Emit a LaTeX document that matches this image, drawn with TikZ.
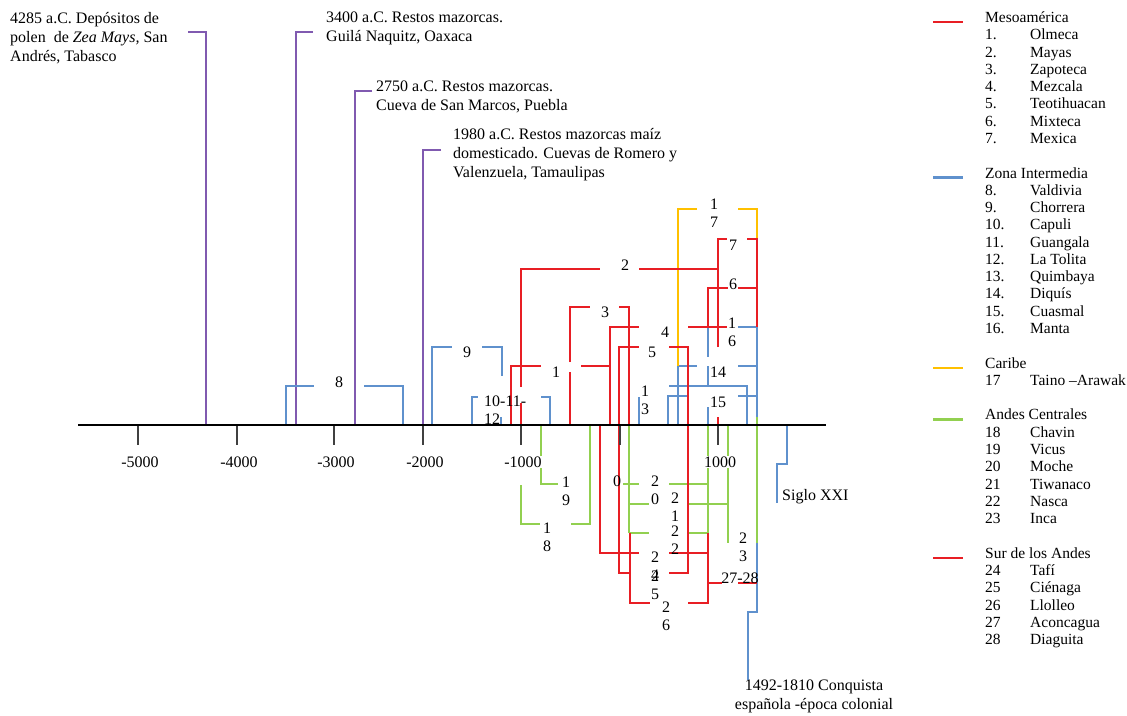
\documentclass[tikz,border=0pt]{standalone}
\usepackage{fontspec}
\setmainfont{Liberation Serif}
\definecolor{mesored}{RGB}{232,30,36}
\definecolor{zonablue}{RGB}{95,145,205}
\definecolor{caribeyellow}{RGB}{255,192,0}
\definecolor{andesgreen}{RGB}{146,208,80}
\definecolor{maizpurple}{RGB}{128,90,176}
\definecolor{tickgray}{RGB}{64,64,64}
\newcommand\chartfont{\fontsize{16}{18}\selectfont}
\newcommand\notefont{\fontsize{16}{19}\selectfont}
\newcommand\legfont{\fontsize{15.5}{17}\selectfont}

\begin{document}
\begin{tikzpicture}[x=1pt,y=-1pt,
    meso/.style={mesored,line width=1.4pt},
    sur/.style={mesored,line width=1.4pt},
    zona/.style={zonablue,line width=1.4pt},
    caribe/.style={caribeyellow,line width=1.4pt},
    andes/.style={andesgreen,line width=1.4pt},
    maiz/.style={maizpurple,line width=1.4pt},
    lbl/.style={inner sep=0pt,align=center,font=\chartfont},
    note/.style={inner sep=0pt,align=left,font=\notefont,anchor=west},
    legtext/.style={inner sep=0pt,font=\legfont,anchor=base west}]
  \useasboundingbox (0,0) rectangle (1127,715);

  \draw[maiz] (188,32) -- (206,32) -- (206,425);
  \draw[maiz] (313,32) -- (296,32) -- (296,425);
  \draw[maiz] (372,91) -- (355,91) -- (355,425);
  \draw[maiz] (441,150) -- (423,150) -- (423,425);
  \node[note] (polen) at (10,38) {4285 a.C. Depósitos de\\polen\ \ de \textit{Zea Mays,} San\\Andrés, Tabasco};
  \node[note] (guila) at (326,28.5) {3400 a.C. Restos mazorcas.\\Guilá Naquitz, Oaxaca};
  \node[note] (sanmarcos) at (376,96.5) {2750 a.C. Restos mazorcas.\\Cueva de San Marcos, Puebla};
  \node[note] (romero) at (453,155) {1980 a.C. Restos mazorcas maíz\\domesticado. Cuevas de Romero y\\Valenzuela, Tamaulipas};

  \draw[zona] (286,425) -- (286,386) -- (314,386) (364,386) -- (403,386) -- (403,425);
  \draw[zona] (432,425) -- (432,347) -- (452,347) (482,347) -- (502,347) -- (502,376);
  \draw[zona] (472,425) -- (472,397) -- (478,397) (541,397) -- (550,397) -- (550,425) (501,417) -- (501,425);
  \draw[zona] (639,397) -- (639,425);
  \draw[zona] (678,366) -- (678,425) (678,366) -- (697,366) (738,366) -- (757,366);
  \draw[zona] (668,425) -- (668,396) -- (688,396) (738,396) -- (757,396);
  \draw[zona] (669,386) -- (747,386) -- (747,425);
  \draw[zona] (708,327) -- (708,357) (708,366) -- (708,386) (708,407) -- (708,425)
    (738,327) -- (757,327) -- (757,417);
  \draw[zona] (787,425) -- (787,464) -- (777,464) -- (777,503);
  \draw[zona] (757,543) -- (757,612) -- (748,612) -- (748,680);

  \draw[caribe] (678,366) -- (678,209) -- (697,209) (738,209) -- (757,209) -- (757,239);

  \draw[meso] (511,425) -- (511,366) -- (541,366) (581,366) -- (610,366);
  \draw[meso] (521,425) -- (521,403) (521,387) -- (521,269) -- (600,269) (639,269) -- (718,269);
  \draw[meso] (570,425) -- (570,372) (570,362) -- (570,307) -- (590,307) (619,307) -- (629,307) -- (629,425);
  \draw[meso] (610,425) -- (610,327) -- (639,327) (688,327) -- (727,327);
  \draw[meso] (619,425) -- (619,347) -- (639,347) (669,347) -- (688,347) -- (688,425);
  \draw[meso] (708,327) -- (708,288) -- (728,288) (738,288) -- (757,288);
  \draw[meso] (718,347) -- (718,239) -- (727,239) (747,239) -- (757,239) -- (757,327) (718,417) -- (718,425);

  \draw[andes] (541,425) -- (541,484) -- (558,484);
  \draw[andes] (521,485) -- (521,524) -- (540,524) (571,524) -- (590,524) -- (590,425);
  \draw[andes] (623,484) -- (639,484) (669,484) -- (708,484) (708,425) -- (708,535);
  \draw[andes] (629,425) -- (629,533) (629,504) -- (649,504) (689,504) -- (728,504) (728,425) -- (728,543);
  \draw[andes] (629,533) -- (649,533) (689,533) -- (708,533);
  \draw[andes] (757,417) -- (757,543);

  \draw[sur] (600,425) -- (600,553) -- (639,553) (669,553) -- (708,553);
  \draw[sur] (619,425) -- (619,573) -- (630,573) (669,573) -- (688,573) -- (688,425);
  \draw[sur] (630,533) -- (630,603) -- (650,603) (688,603) -- (708,603) -- (708,533);
  \draw[sur] (708,583) -- (722,583) (738,583) -- (757,583);

  \draw[line width=2.6pt] (78,425) -- (826,425);
  \foreach \x/\yr [count=\i] in {138/-5000,237/-4000,334/-3000,423/-2000,521/-1000,718/1000} {
    \draw[tickgray,line width=1.6pt] (\x,426) -- (\x,445);
    \node[lbl,fill=white,inner sep=1pt] (tick\i) at (\x+2,462) {\yr};
  }
  \draw[tickgray,line width=1.6pt] (620,426) -- (620,445);
  \node[lbl] (tick0) at (617,481) {0};

  \node[lbl] (c1) at (556,372) {1};
  \node[lbl] (c2) at (625,265) {2};
  \node[lbl] (c3) at (605,312) {3};
  \node[lbl] (c4) at (665,332) {4};
  \node[lbl] (c5) at (652,352) {5};
  \node[lbl] (c6) at (733,284) {6};
  \node[lbl] (c7) at (733,245) {7};
  \node[lbl] (c8) at (339,382) {8};
  \node[lbl] (c9) at (467,352) {9};
  \node[lbl,align=left,anchor=west] (c10) at (484,410) {10-11-\\12};
  \node[lbl] (c13) at (645,400) {1\\3};
  \node[lbl] (c14) at (718,372) {14};
  \node[lbl] (c15) at (718,402) {15};
  \node[lbl] (c16) at (732,332) {1\\6};
  \node[lbl] (c17) at (714,213) {1\\7};
  \node[lbl] (c18) at (547,537) {1\\8};
  \node[lbl] (c19) at (566,491) {1\\9};
  \node[lbl] (c20) at (655,490) {2\\0};
  \node[lbl] (c21) at (675,507) {2\\1};
  \node[lbl] (c22) at (675,540) {2\\2};
  \node[lbl] (c23) at (743,547) {2\\3};
  \node[lbl] (c24) at (655,566) {2\\4};
  \node[lbl] (c25) at (655,585) {2\\5};
  \node[lbl] (c26) at (666,616) {2\\6};
  \node[lbl] (c27) at (740,578) {27-28};
  \node[lbl,anchor=west] (siglo) at (782,497) {Siglo XXI};
  \node[lbl,font=\notefont] (conquista) at (814,696) {1492-1810 Conquista\\española -época colonial};

  \foreach \r/\head/\col in {0/Mesoamérica/mesored, 9/Zona Intermedia/zonablue, 20/Caribe/caribeyellow,
      23/Andes Centrales/andesgreen, 31/Sur de los Andes/mesored} {
    \draw[\col,line width=2.2pt] (933,22+17.28*\r) -- (963,22+17.28*\r);
    \node[legtext] (head\r) at (985,22.5+17.28*\r) {\head};
  }
  \foreach \r/\num/\name in {1/1./Olmeca, 2/2./Mayas, 3/3./Zapoteca, 4/4./Mezcala, 5/5./Teotihuacan,
      6/6./Mixteca, 7/7./Mexica, 10/8./Valdivia, 11/9./Chorrera, 12/10./Capuli, 13/11./Guangala,
      14/12./La Tolita, 15/13./Quimbaya, 16/14./Diquís, 17/15./Cuasmal, 18/16./Manta,
      21/17/Taino –Arawak, 24/18/Chavin, 25/19/Vicus, 26/20/Moche, 27/21/Tiwanaco, 28/22/Nasca,
      29/23/Inca, 32/24/Tafí, 33/25/Ciénaga, 34/26/Llolleo, 35/27/Aconcagua, 36/28/Diaguita} {
    \node[legtext] (num\r) at (985,22.5+17.28*\r) {\num};
    \node[legtext] (name\r) at (1030,22.5+17.28*\r) {\name};
  }
\end{tikzpicture}
\end{document}
